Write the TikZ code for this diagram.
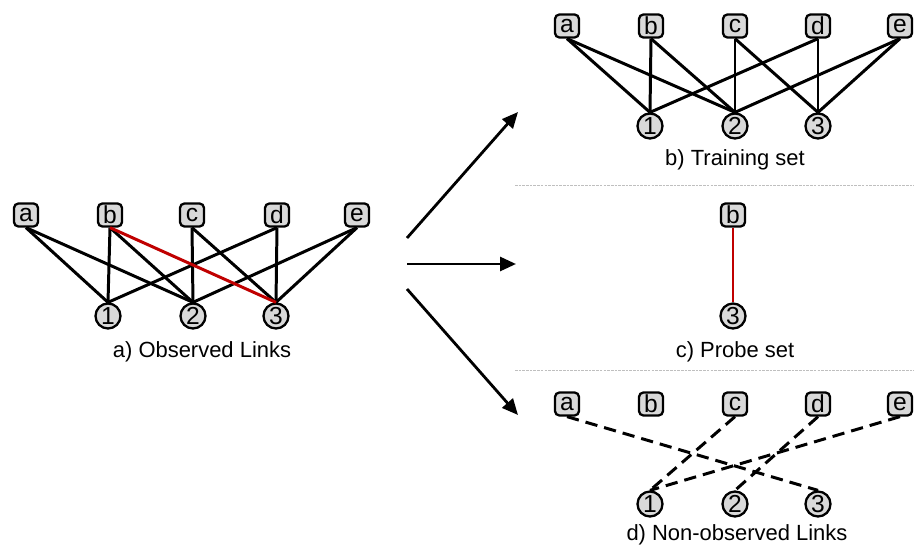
\documentclass[tikz,border=0pt]{standalone}
\usepackage{fontspec}
\setmainfont{Liberation Sans}
\usetikzlibrary{arrows.meta}
\definecolor{vermelho}{RGB}{192,0,0}
\definecolor{cinza}{RGB}{217,217,217}
\begin{document}
\begin{tikzpicture}[x=0.02cm, y=-0.02cm]
\tikzstyle{caixa}=[draw=black, fill=cinza, rounded corners=2.5pt, line width=1.3pt, minimum width=0.48cm, minimum height=0.46cm, inner sep=0, font=\fontsize{14}{14}\selectfont]
\tikzstyle{bola}=[circle, draw=black, fill=cinza, line width=1.3pt, minimum size=0.5cm, inner sep=0, font=\fontsize{14}{14}\selectfont]
\tikzstyle{rotulo}=[font=\fontsize{12.5}{13}\selectfont]
\tikzstyle{liga}=[line width=1.7pt]
\tikzstyle{seta}=[line width=1.6pt, -{Triangle[length=0.32cm, width=0.28cm]}]
\tikzstyle{divisa}=[gray!50, line width=0.4pt, dash pattern=on 1.5pt off 0.6pt]
\useasboundingbox (0,0) rectangle (914,548);
% a) observed links
\foreach \n/\x in {a/26, b/110, c/192, d/277, e/357}
\node[caixa] (A\n) at (\x,215) {\n};
\foreach \n/\x in {1/108, 2/193, 3/276}
\node[bola] (A\n) at (\x,316) {\n};
\foreach \u/\v in {a/1, a/2, b/1, b/2, c/2, c/3, d/1, d/3, e/2, e/3}
\draw[liga] (A\u.south) -- (A\v.north);
\draw[liga, vermelho] (Ab.south) -- (A3.north);
\node[rotulo] (la) at (202,352) {a) Observed Links};
% b) training set
\foreach \n/\x in {a/567, b/651, c/735, d/818, e/900}
\node[caixa] (B\n) at (\x,26) {\n};
\foreach \n/\x in {1/650, 2/735, 3/818}
\node[bola] (B\n) at (\x,126) {\n};
\foreach \u/\v in {a/1, a/2, b/1, b/2, c/2, c/3, d/1, d/3, e/2, e/3}
\draw[liga] (B\u.south) -- (B\v.north);
\node[rotulo] (lb) at (735,160) {b) Training set};
% c) probe set
\node[caixa] (Cb) at (733,215) {b};
\node[bola] (C3) at (733,316) {3};
\draw[liga, vermelho] (Cb.south) -- (C3.north);
\node[rotulo] (lc) at (735,352) {c) Probe set};
% d) non-observed links
\foreach \n/\x in {a/567, b/651, c/735, d/818, e/900}
\node[caixa] (D\n) at (\x,404) {\n};
\foreach \n/\x in {1/650, 2/735, 3/818}
\node[bola] (D\n) at (\x,504) {\n};
\foreach \u/\v in {a/3, c/1, d/2, e/1}
\draw[liga, dash pattern=on 7pt off 4pt] (D\u.south) -- (D\v.north);
\node[rotulo] (ld) at (737,535) {d) Non-observed Links};
% separadores
\draw[divisa] (515,185) -- (914,185);
\draw[divisa] (515,370) -- (914,370);
% setas
\coordinate (s1) at (407,238);
\coordinate (t1) at (518,112);
\coordinate (s2) at (407,264);
\coordinate (t2) at (516,264);
\coordinate (s3) at (407,289);
\coordinate (t3) at (518,415);
\draw[seta] (s1) -- (t1);
\draw[seta] (s2) -- (t2);
\draw[seta] (s3) -- (t3);
\end{tikzpicture}
\end{document}
